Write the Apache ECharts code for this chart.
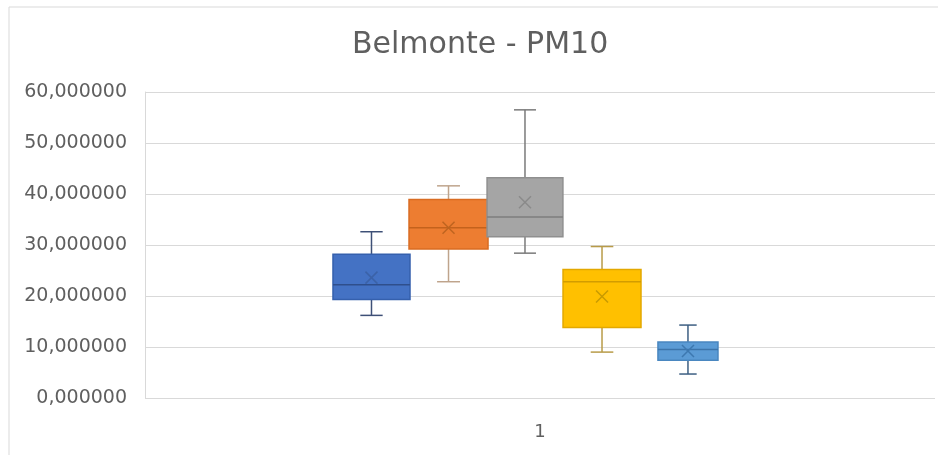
<!DOCTYPE html>
<html>
<head>
<meta charset="utf-8">
<script src="https://cdn.jsdelivr.net/npm/echarts@6/dist/echarts.min.js"></script>
<style>
  html, body { margin: 0; padding: 0; background: #ffffff; }
  #chart { width: 938px; height: 455px; }
</style>
</head>
<body>
<div id="chart"></div>
<script>
// PM10 concentrations at Belmonte, five box-and-whisker series on one category
const categories = ['1'];
const seriesNames = ['Serie 1', 'Serie 2', 'Serie 3', 'Serie 4', 'Serie 5'];
const whiskerLow  = [16.2, 22.8, 28.4, 9.0, 4.7];
const quartile1   = [19.3, 29.2, 31.6, 13.8, 7.4];
const medianVals  = [22.2, 33.4, 35.5, 22.8, 9.5];
const quartile3   = [28.2, 38.9, 43.2, 25.2, 11.0];
const whiskerHigh = [32.6, 41.6, 56.5, 29.7, 14.3];
const meanVals    = [23.6, 33.4, 38.4, 19.9, 9.2];
const yTicks = [0, 10, 20, 30, 40, 50, 60];

// placement of each box inside the category band (fraction of band width)
const slotOffset = [-0.2133, -0.1158, -0.019, 0.0785, 0.1873];
const slotWidth  = [0.0975, 0.100, 0.096, 0.0987, 0.076];

const fillColors    = ['#4472C4', '#ED7D31', '#A5A5A5', '#FFC000', '#5B9BD5'];
const borderColors  = ['#3560AD', '#D96C22', '#8F8F8F', '#E3A800', '#4A87C0'];
const medianColors  = ['#2F4F8C', '#C4621C', '#7E7E7E', '#D29C00', '#3C74AA'];
const meanColors    = ['#3B62A8', '#BF6420', '#8A8A8A', '#C99A00', '#3D78B0'];
const whiskerColors = ['#3E5077', '#BFA48C', '#7A7A7A', '#B89B48', '#3D5F82'];

const chart = echarts.init(document.getElementById('chart'), null, { renderer: 'canvas' });

function makeRender(i) {
  return function (params, api) {
    const x = api.value(0);
    const pLow  = api.coord([x, api.value(1)]);
    const pQ1   = api.coord([x, api.value(2)]);
    const pMed  = api.coord([x, api.value(3)]);
    const pQ3   = api.coord([x, api.value(4)]);
    const pHigh = api.coord([x, api.value(5)]);
    const pMean = api.coord([x, api.value(6)]);
    const band = api.size([1, 0])[0];
    const cx = pMed[0] + slotOffset[i] * band;
    const hw = slotWidth[i] * band / 2;
    const cap = hw * 0.29;
    const xm = 6;
    const wStyle = { stroke: whiskerColors[i], lineWidth: 1.5 };
    return {
      type: 'group',
      children: [
        { type: 'line', shape: { x1: cx, y1: pHigh[1], x2: cx, y2: pQ3[1] }, style: wStyle },
        { type: 'line', shape: { x1: cx, y1: pQ1[1], x2: cx, y2: pLow[1] }, style: wStyle },
        { type: 'line', shape: { x1: cx - cap, y1: pHigh[1], x2: cx + cap, y2: pHigh[1] }, style: wStyle },
        { type: 'line', shape: { x1: cx - cap, y1: pLow[1], x2: cx + cap, y2: pLow[1] }, style: wStyle },
        { type: 'rect', shape: { x: cx - hw, y: pQ3[1], width: hw * 2, height: pQ1[1] - pQ3[1] },
          style: { fill: fillColors[i], stroke: borderColors[i], lineWidth: 1.5 } },
        { type: 'line', shape: { x1: cx - hw, y1: pMed[1], x2: cx + hw, y2: pMed[1] },
          style: { stroke: medianColors[i], lineWidth: 1.5 } },
        { type: 'line', shape: { x1: cx - xm, y1: pMean[1] - xm, x2: cx + xm, y2: pMean[1] + xm },
          style: { stroke: meanColors[i], lineWidth: 1.5 } },
        { type: 'line', shape: { x1: cx - xm, y1: pMean[1] + xm, x2: cx + xm, y2: pMean[1] - xm },
          style: { stroke: meanColors[i], lineWidth: 1.5 } }
      ]
    };
  };
}

const series = seriesNames.map(function (name, i) {
  return {
    name: name,
    type: 'custom',
    renderItem: makeRender(i),
    encode: { x: 0, y: [1, 2, 3, 4, 5, 6] },
    data: [[0, whiskerLow[i], quartile1[i], medianVals[i], quartile3[i], whiskerHigh[i], meanVals[i]]],
    z: 2 + i
  };
});

const textColor = '#5f5f5f';
const fontFam = '"DejaVu Sans", sans-serif';

chart.setOption({
  animation: false,
  backgroundColor: '#ffffff',
  title: {
    text: 'Belmonte - PM10',
    left: 347,
    top: 25,
    textStyle: { fontFamily: fontFam, fontSize: 30, fontWeight: 'normal', color: textColor }
  },
  graphic: [
    { type: 'rect', shape: { x: 9, y: 7, width: 960, height: 480 },
      style: { fill: 'none', stroke: '#D9D9D9', lineWidth: 1 }, silent: true }
  ],
  grid: { left: 145, right: 3, top: 92, bottom: 57 },
  xAxis: {
    type: 'category',
    data: categories,
    axisLine: { show: false },
    axisTick: { show: false },
    axisLabel: { color: textColor, fontFamily: fontFam, fontSize: 18, margin: 25 }
  },
  yAxis: {
    type: 'value',
    min: yTicks[0],
    max: yTicks[yTicks.length - 1],
    interval: yTicks[1] - yTicks[0],
    axisLine: { show: true, lineStyle: { color: '#D9D9D9', width: 1 } },
    axisTick: { show: false },
    splitLine: { lineStyle: { color: '#D9D9D9', width: 1 } },
    axisLabel: {
      color: textColor, fontFamily: fontFam, fontSize: 19, margin: 18,
      formatter: function (v) { return v.toFixed(6).replace('.', ','); }
    }
  },
  series: series
});
</script>
</body>
</html>
